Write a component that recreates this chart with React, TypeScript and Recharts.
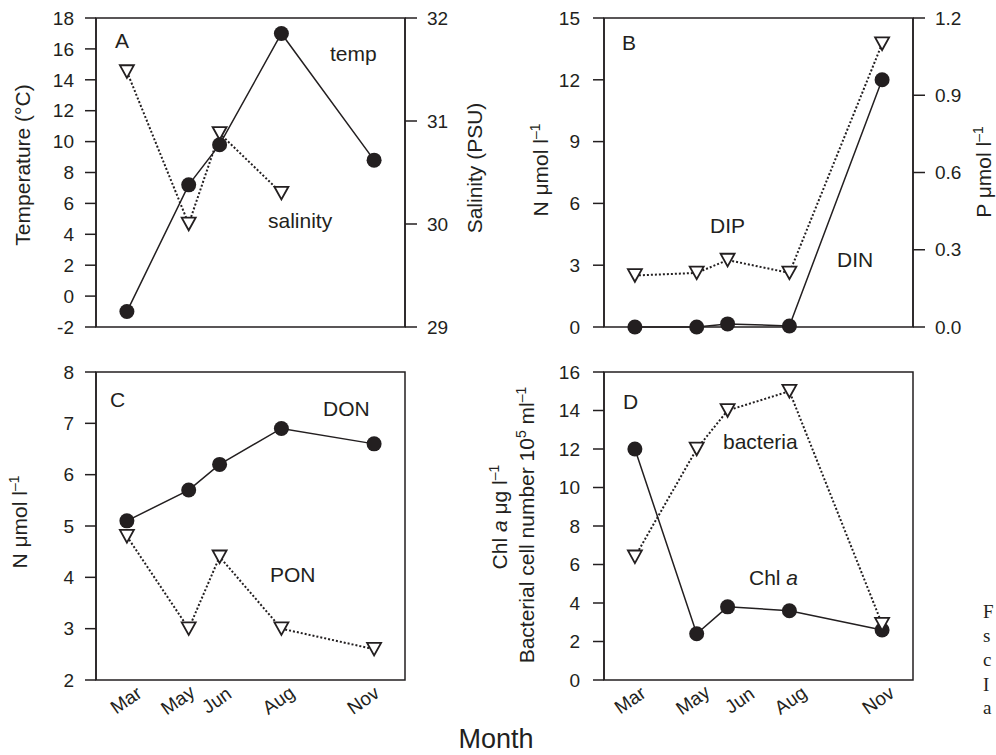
import React from 'react';
import { LineChart, Line, XAxis, YAxis, ReferenceArea } from 'recharts';

const months = [3, 5, 6, 8, 11];
const monthLabels = ['Mar', 'May', 'Jun', 'Aug', 'Nov'];

const temperature = [-1, 7.2, 9.8, 17, 8.8];
const salinity = [31.48, 30.0, 30.88, 30.3, null];
const din = [0, 0, 0.15, 0.05, 12];
const dip = [0.2, 0.21, 0.26, 0.21, 1.1];
const don = [5.1, 5.7, 6.2, 6.9, 6.6];
const pon = [4.8, 3.0, 4.4, 3.0, 2.6];
const chla = [12, 2.4, 3.8, 3.6, 2.6];
const bacteria = [6.4, 12, 14, 15, 2.9];

const tempTicks = [-2, 0, 2, 4, 6, 8, 10, 12, 14, 16, 18];
const salinityTicks = [29, 30, 31, 32];
const dinTicks = [0, 3, 6, 9, 12, 15];
const dipTicks = [0, 0.3, 0.6, 0.9, 1.2];
const organicTicks = [2, 3, 4, 5, 6, 7, 8];
const chlTicks = [0, 2, 4, 6, 8, 10, 12, 14, 16];

const dataA = months.map((m, i) => ({ month: m, temperature: temperature[i], salinity: salinity[i] }));
const dataB = months.map((m, i) => ({ month: m, din: din[i], dip: dip[i] }));
const dataC = months.map((m, i) => ({ month: m, don: don[i], pon: pon[i] }));
const dataD = months.map((m, i) => ({ month: m, chla: chla[i], bacteria: bacteria[i] }));

const INK = '#231f20';
const SANS = '"Liberation Sans", Arial, Helvetica, sans-serif';
const SERIF = '"Liberation Serif", "Times New Roman", serif';

const tickStyle = { fill: INK, fontSize: 19, fontFamily: SANS };
const lineStyle = { stroke: INK, strokeWidth: 1.5 };

const CircleDot = (props: any) => {
  const { cx, cy, value, index } = props;
  if (cx == null || cy == null || value == null) return <g key={`c${index}`} />;
  return <circle key={`c${index}`} cx={cx} cy={cy} r={7.5} fill={INK} />;
};

const TriangleDot = (props: any) => {
  const { cx, cy, value, index } = props;
  if (cx == null || cy == null || value == null) return <g key={`t${index}`} />;
  const w = 7, h = 6.3;
  return (
    <path
      key={`t${index}`}
      d={`M${cx - w},${cy - h} L${cx + w},${cy - h} L${cx},${cy + h} Z`}
      fill="#fff"
      stroke={INK}
      strokeWidth={1.8}
      strokeLinejoin="miter"
    />
  );
};

const offsetsC: Record<number, number> = { 3: -1, 5: -11, 6: -3, 8: -3, 11: -11 };
const offsetsD: Record<number, number> = { 3: -5, 5: -4, 6: 12, 8: 1, 11: -4 };

const makeTick = (offsets: Record<number, number>) => (props: any) => {
  const { x, y, payload } = props;
  const idx = months.indexOf(payload.value);
  const label = idx >= 0 ? monthLabels[idx] : '';
  const cx = x + (offsets[payload.value] || 0);
  const cy = y + 20;
  return (
    <text
      x={cx}
      y={cy}
      dy="0.35em"
      textAnchor="middle"
      fill={INK}
      fontSize={19}
      fontFamily={SANS}
      transform={`rotate(-35, ${cx}, ${cy})`}
    >
      {label}
    </text>
  );
};

const solid = { stroke: INK, strokeWidth: 1.5 };
const dotted = { stroke: INK, strokeWidth: 2, strokeDasharray: '2 2' };

const W = 498;

export default function App() {
  return (
    <div style={{ position: 'absolute', left: 0, top: 0, width: 996, height: 755, overflow: 'hidden', background: '#fff' }}>
      {/* Panel A */}
      <div style={{ position: 'absolute', left: 0, top: 0 }}>
        <LineChart width={W} height={345} data={dataA} margin={{ top: 18, right: 0, bottom: 18, left: 0 }}>
          <XAxis dataKey="month" type="number" domain={[2, 12]} ticks={months} hide />
          <YAxis yAxisId="left" type="number" domain={[-2, 18]} ticks={tempTicks} interval={0} width={96}
            tickSize={11} tickMargin={11} tick={tickStyle} axisLine={lineStyle} tickLine={lineStyle} />
          <YAxis yAxisId="right" orientation="right" type="number" domain={[29, 32]} ticks={salinityTicks} interval={0} width={93}
            tickSize={12} tickMargin={10} tick={tickStyle} axisLine={lineStyle} tickLine={lineStyle} />
          <ReferenceArea x1={2} x2={12} y1={-2} y2={18} yAxisId="left" fill="none" stroke={INK} strokeWidth={1.5} ifOverflow="visible" />
          <Line yAxisId="right" dataKey="salinity" {...dotted} dot={TriangleDot} activeDot={false} isAnimationActive={false} />
          <Line yAxisId="left" dataKey="temperature" {...solid} dot={CircleDot} activeDot={false} isAnimationActive={false} />
        </LineChart>
      </div>

      {/* Panel B */}
      <div style={{ position: 'absolute', left: W, top: 0 }}>
        <LineChart width={W} height={345} data={dataB} margin={{ top: 18, right: 0, bottom: 18, left: 0 }}>
          <XAxis dataKey="month" type="number" domain={[2, 12]} ticks={months} hide />
          <YAxis yAxisId="left" type="number" domain={[0, 15]} ticks={dinTicks} interval={0} width={106}
            tickSize={11} tickMargin={13} tick={tickStyle} axisLine={lineStyle} tickLine={lineStyle} />
          <YAxis yAxisId="right" orientation="right" type="number" domain={[0, 1.2]} ticks={dipTicks} interval={0} width={83}
            tickSize={12} tickMargin={10} tick={tickStyle} axisLine={lineStyle} tickLine={lineStyle}
            tickFormatter={(v: number) => v.toFixed(1)} />
          <ReferenceArea x1={2} x2={12} y1={0} y2={15} yAxisId="left" fill="none" stroke={INK} strokeWidth={1.5} ifOverflow="visible" />
          <Line yAxisId="right" dataKey="dip" {...dotted} dot={TriangleDot} activeDot={false} isAnimationActive={false} />
          <Line yAxisId="left" dataKey="din" {...solid} dot={CircleDot} activeDot={false} isAnimationActive={false} />
        </LineChart>
      </div>

      {/* Panel C */}
      <div style={{ position: 'absolute', left: 0, top: 345 }}>
        <LineChart width={W} height={410} data={dataC} margin={{ top: 27, right: 93, bottom: 0, left: 0 }}>
          <XAxis dataKey="month" type="number" domain={[2, 12]} ticks={months} interval={0} height={75}
            tickSize={0} tickMargin={0} tickLine={false} axisLine={false} tick={makeTick(offsetsC)} />
          <YAxis yAxisId="left" type="number" domain={[2, 8]} ticks={organicTicks} interval={0} width={96}
            tickSize={11} tickMargin={11} tick={tickStyle} axisLine={lineStyle} tickLine={lineStyle} />
          <ReferenceArea x1={2} x2={12} y1={2} y2={8} yAxisId="left" fill="none" stroke={INK} strokeWidth={1.5} ifOverflow="visible" />
          <Line yAxisId="left" dataKey="pon" {...dotted} dot={TriangleDot} activeDot={false} isAnimationActive={false} />
          <Line yAxisId="left" dataKey="don" {...solid} dot={CircleDot} activeDot={false} isAnimationActive={false} />
        </LineChart>
      </div>

      {/* Panel D */}
      <div style={{ position: 'absolute', left: W, top: 345 }}>
        <LineChart width={W} height={410} data={dataD} margin={{ top: 27, right: 83, bottom: 0, left: 0 }}>
          <XAxis dataKey="month" type="number" domain={[2, 12]} ticks={months} interval={0} height={75}
            tickSize={0} tickMargin={0} tickLine={false} axisLine={false} tick={makeTick(offsetsD)} />
          <YAxis yAxisId="left" type="number" domain={[0, 16]} ticks={chlTicks} interval={0} width={106}
            tickSize={11} tickMargin={13} tick={tickStyle} axisLine={lineStyle} tickLine={lineStyle} />
          <ReferenceArea x1={2} x2={12} y1={0} y2={16} yAxisId="left" fill="none" stroke={INK} strokeWidth={1.5} ifOverflow="visible" />
          <Line yAxisId="left" dataKey="chla" {...solid} dot={CircleDot} activeDot={false} isAnimationActive={false} />
          <Line yAxisId="left" dataKey="bacteria" {...dotted} dot={TriangleDot} activeDot={false} isAnimationActive={false} />
        </LineChart>
      </div>

      {/* Text overlay */}
      <svg width={996} height={755} style={{ position: 'absolute', left: 0, top: 0, pointerEvents: 'none' }}>
        <g fill={INK} fontFamily={SANS} fontSize={21}>
          {/* axis titles */}
          <text x={23} y={165} dy="0.35em" textAnchor="middle" transform="rotate(-90, 23, 165)">Temperature (°C)</text>
          <text x={475} y={168} dy="0.35em" textAnchor="middle" transform="rotate(-90, 475, 168)">Salinity (PSU)</text>
          <text x={541} y={170} dy="0.35em" textAnchor="middle" transform="rotate(-90, 541, 170)">
            N μmol l<tspan dy="-8" fontSize={14}>–1</tspan>
          </text>
          <text x={984} y={172} dy="0.35em" textAnchor="middle" transform="rotate(-90, 984, 172)">
            P μmol l<tspan dy="-8" fontSize={14}>–1</tspan>
          </text>
          <text x={20} y={522} dy="0.35em" textAnchor="middle" transform="rotate(-90, 20, 522)">
            N μmol l<tspan dy="-8" fontSize={14}>–1</tspan>
          </text>
          <text x={500} y={517} dy="0.35em" textAnchor="middle" transform="rotate(-90, 500, 517)">
            Chl <tspan fontStyle="italic">a</tspan> μg l<tspan dy="-8" fontSize={14}>–1</tspan>
          </text>
          <text x={527} y={525} dy="0.35em" textAnchor="middle" transform="rotate(-90, 527, 525)">
            Bacterial cell number 10<tspan dy="-8" fontSize={14}>5</tspan>
            <tspan dy="8"> ml</tspan><tspan dy="-8" fontSize={14}>–1</tspan>
          </text>
          <text x={496} y={748} textAnchor="middle" fontSize={27}>Month</text>

          {/* annotations */}
          <text x={115} y={48}>A</text>
          <text x={330} y={61}>temp</text>
          <text x={268} y={228}>salinity</text>
          <text x={622} y={50}>B</text>
          <text x={710} y={233}>DIP</text>
          <text x={837} y={267}>DIN</text>
          <text x={110} y={407}>C</text>
          <text x={323} y={416}>DON</text>
          <text x={270} y={582}>PON</text>
          <text x={623} y={409}>D</text>
          <text x={723} y={449}>bacteria</text>
          <text x={749} y={585}>Chl <tspan fontStyle="italic">a</tspan></text>
        </g>
        <g fill={INK} fontFamily={SERIF} fontSize={19}>
          <text x={983} y={618}>F</text>
          <text x={983} y={642}>s</text>
          <text x={983} y={666}>c</text>
          <text x={983} y={691}>I</text>
          <text x={983} y={714}>a</text>
        </g>
      </svg>
    </div>
  );
}
